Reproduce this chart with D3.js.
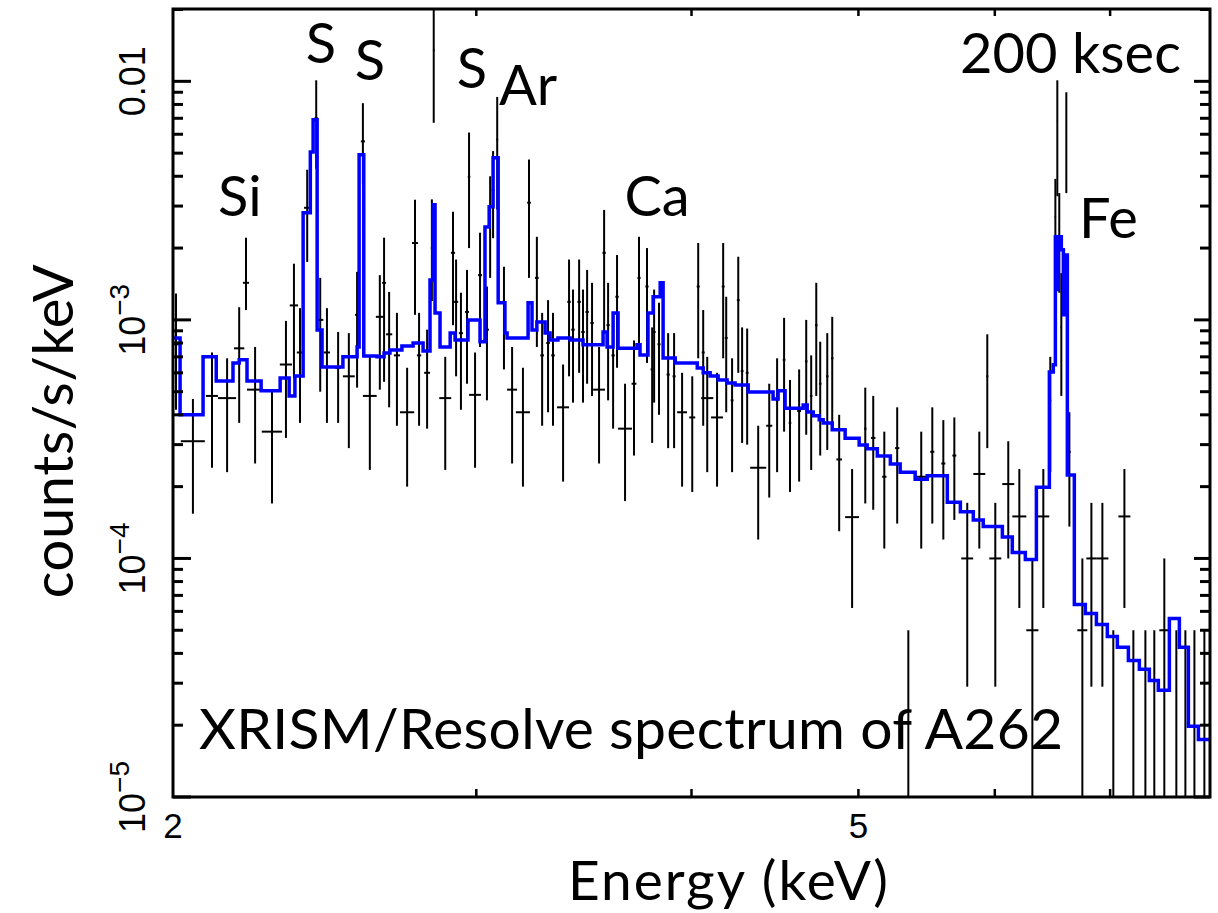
<!DOCTYPE html>
<html>
<head>
<meta charset="utf-8">
<script src="https://cdn.jsdelivr.net/npm/d3@7"></script>
<style>
  html, body { margin: 0; padding: 0; background: #ffffff; }
  svg { display: block; }
</style>
</head>
<body>
<svg id="chart" width="1218" height="913"></svg>
<script>
// Axis ranges
const energyRange = [2, 8];            // keV
const rateRange = [1e-5, 0.0201];      // counts/s/keV

// Observed spectrum: bin centre (keV), half bin width (keV), rate, lower and upper error limits.
// A rate of 0 marks an empty bin (only its upper limit is drawn).
const binEnergy = [
  2.008, 2.054, 2.107, 2.150, 2.185, 2.205, 2.232, 2.283, 2.326, 2.351,
  2.370, 2.393, 2.422, 2.435, 2.457, 2.494, 2.530, 2.558, 2.578, 2.602,
  2.637, 2.652, 2.670, 2.698, 2.735, 2.764, 2.779, 2.809, 2.827, 2.834,
  2.878, 2.908, 2.920, 2.939, 2.963, 2.971, 2.995, 3.015, 3.043, 3.056,
  3.068, 3.085, 3.113, 3.147, 3.193, 3.219, 3.253, 3.276, 3.302, 3.324,
  3.369, 3.396, 3.414, 3.442, 3.460, 3.479, 3.502, 3.535, 3.559, 3.578,
  3.602, 3.621, 3.660, 3.704, 3.729, 3.769, 3.795, 3.805, 3.830, 3.877,
  3.908, 3.950, 4.004, 4.036, 4.063, 4.085, 4.139, 4.173, 4.190, 4.223,
  4.258, 4.280, 4.309, 4.373, 4.438, 4.485, 4.527, 4.563, 4.619, 4.663,
  4.694, 4.726, 4.751, 4.796, 4.828, 4.873, 4.958, 5.046, 5.100, 5.176,
  5.266, 5.345, 5.438, 5.519, 5.601, 5.684, 5.783, 5.877, 5.940, 6.004,
  6.109, 6.200, 6.309, 6.402, 6.462, 6.506, 6.523, 6.540, 6.558, 6.602,
  6.629, 6.745, 6.827, 6.928, 7.030, 7.135, 7.221, 7.338, 7.426, 7.526,
  7.648, 7.741, 7.835, 7.940
];
const binHalfWidth = [
  0.008, 0.033, 0.017, 0.026, 0.015, 0.009, 0.024, 0.031, 0.019, 0.013,
  0.010, 0.010, 0.006, 0.010, 0.010, 0.010, 0.020, 0.007, 0.007, 0.024,
  0.014, 0.007, 0.011, 0.011, 0.026, 0.011, 0.008, 0.011, 0.004, 0.003,
  0.023, 0.008, 0.008, 0.008, 0.008, 0.005, 0.024, 0.008, 0.008, 0.006,
  0.006, 0.004, 0.008, 0.021, 0.030, 0.008, 0.008, 0.008, 0.008, 0.008,
  0.027, 0.008, 0.008, 0.008, 0.008, 0.008, 0.008, 0.028, 0.008, 0.008,
  0.008, 0.008, 0.034, 0.012, 0.008, 0.008, 0.008, 0.008, 0.008, 0.008,
  0.008, 0.026, 0.016, 0.008, 0.008, 0.033, 0.033, 0.008, 0.008, 0.008,
  0.008, 0.008, 0.008, 0.047, 0.018, 0.008, 0.008, 0.008, 0.012, 0.008,
  0.008, 0.008, 0.008, 0.008, 0.008, 0.018, 0.046, 0.008, 0.015, 0.015,
  0.015, 0.000, 0.051, 0.015, 0.015, 0.015, 0.046, 0.047, 0.008, 0.048,
  0.049, 0.058, 0.051, 0.051, 0.008, 0.006, 0.004, 0.004, 0.006, 0.004,
  0.012, 0.045, 0.046, 0.056, 0.000, 0.057, 0.000, 0.000, 0.000, 0.050,
  0.000, 0.000, 0.000, 0.000
];
const binRate = [
  7.9e-4, 3.1e-4, 4.8e-4, 4.7e-4, 7.6e-4, 1.43e-3, 5.1e-4, 3.4e-4, 6.5e-4, 1.15e-3,
  7.3e-4, 2.95e-3, 7.0e-3, 1.0e-3, 7.3e-4, 6.3e-4, 5.8e-4, 1.05e-3, 5.6e-3, 4.8e-4,
  1.03e-3, 1.43e-3, 8.7e-4, 7.1e-4, 4.1e-4, 2.1e-3, 7.1e-4, 6.0e-4, 2.0e-3, 1.35e-2,
  4.7e-4, 1.91e-3, 1.19e-3, 8.8e-4, 1.08e-3, 3.98e-3, 4.85e-4, 1.54e-3, 9.1e-4, 3.0e-3,
  3.5e-3, 5.7e-3, 1.19e-3, 5.1e-4, 4.1e-4, 3.1e-3, 1.5e-3, 7.1e-4, 8.0e-4, 7.1e-4,
  4.3e-4, 1.19e-3, 9.1e-4, 1.19e-3, 8.9e-4, 1.08e-3, 9.7e-4, 5.1e-4, 1.91e-3, 9.5e-4,
  7.1e-4, 1.25e-3, 3.5e-4, 5.4e-4, 1.5e-3, 1.38e-3, 6.2e-4, 8.9e-4, 7.9e-4, 5.9e-4,
  5.8e-4, 4.1e-4, 3.9e-4, 1.38e-3, 7.3e-4, 4.7e-4, 3.9e-4, 1.38e-3, 8.4e-4, 4.6e-4,
  1.21e-3, 6.1e-4, 6.0e-4, 2.4e-4, 3.6e-4, 4.6e-4, 6.8e-4, 3.7e-4, 4.15e-4, 6.7e-4,
  4.8e-4, 9.5e-4, 5.4e-4, 5.8e-4, 6.9e-4, 2.6e-4, 1.49e-4, 3.5e-4, 3.2e-4, 2.2e-4,
  2.9e-4, 0, 2.2e-4, 2.8e-4, 2.5e-4, 2.7e-4, 1.0e-4, 2.26e-4, 5.8e-4, 1.0e-4,
  2.05e-4, 1.5e-4, 5.0e-5, 1.5e-4, 4.6e-4, 2.7e-3, 6.8e-3, 2.4e-3, 9.3e-4, 6.1e-3,
  2.8e-4, 5.0e-5, 1.0e-4, 1.0e-4, 0, 1.5e-4, 0, 0, 0, 5.0e-5,
  0, 0, 0, 0
];
const binLow = [
  4.2e-4, 1.54e-4, 2.4e-4, 2.3e-4, 3.7e-4, 1.10e-3, 2.5e-4, 1.7e-4, 3.2e-4, 5.7e-4,
  3.7e-4, 1.75e-3, 4.3e-3, 5.0e-4, 3.7e-4, 3.7e-4, 2.9e-4, 5.2e-4, 3.7e-3, 2.35e-4,
  5.1e-4, 5.5e-4, 4.3e-4, 3.6e-4, 2.0e-4, 1.05e-3, 3.6e-4, 3.5e-4, 1.2e-3, 6.7e-3,
  2.35e-4, 9.5e-4, 5.8e-4, 4.2e-4, 5.4e-4, 2.0e-3, 2.4e-4, 7.7e-4, 4.6e-4, 1.5e-3,
  2.2e-3, 2.9e-3, 6.2e-4, 2.5e-4, 2.0e-4, 1.5e-3, 7.7e-4, 3.6e-4, 4.1e-4, 3.6e-4,
  2.1e-4, 5.8e-4, 4.5e-4, 6.0e-4, 4.5e-4, 5.4e-4, 4.8e-4, 2.5e-4, 8.8e-4, 4.6e-4,
  3.5e-4, 6.3e-4, 1.74e-4, 2.7e-4, 7.5e-4, 6.6e-4, 3.05e-4, 4.5e-4, 4.0e-4, 2.9e-4,
  2.9e-4, 2.0e-4, 1.9e-4, 6.9e-4, 3.6e-4, 2.3e-4, 2.0e-4, 6.9e-4, 4.1e-4, 2.3e-4,
  6.0e-4, 3.05e-4, 3.0e-4, 1.2e-4, 1.8e-4, 2.3e-4, 3.4e-4, 1.9e-4, 2.1e-4, 3.3e-4,
  2.35e-4, 4.8e-4, 2.7e-4, 2.85e-4, 3.5e-4, 1.3e-4, 6.2e-5, 1.7e-4, 1.6e-4, 1.1e-4,
  1.4e-4, 0, 1.1e-4, 1.4e-4, 1.2e-4, 1.45e-4, 2.9e-5, 1.1e-4, 2.9e-4, 2.9e-5,
  1.0e-4, 6.2e-5, 0, 6.2e-5, 2.3e-4, 1.4e-3, 3.3e-3, 1.3e-3, 4.8e-4, 3.4e-3,
  1.36e-4, 0, 2.9e-5, 2.9e-5, 0, 6.2e-5, 0, 0, 0, 0,
  0, 0, 0, 0
];
const binHigh = [
  1.29e-3, 4.66e-4, 7.3e-4, 6.9e-4, 1.13e-3, 2.21e-3, 7.7e-4, 5.0e-4, 9.9e-4, 1.72e-3,
  1.12e-3, 4.26e-3, 1.01e-2, 1.5e-3, 1.12e-3, 8.9e-4, 8.8e-4, 1.59e-3, 8.1e-3, 7.0e-4,
  1.54e-3, 2.21e-3, 1.31e-3, 1.07e-3, 6.3e-4, 3.19e-3, 1.07e-3, 9.1e-4, 3.2e-3, 2.1e-2,
  7.0e-4, 2.84e-3, 1.79e-3, 1.30e-3, 1.62e-3, 6.1e-3, 7.3e-4, 2.32e-3, 1.38e-3, 4.0e-3,
  5.1e-3, 8.6e-3, 1.67e-3, 7.7e-4, 6.3e-4, 4.7e-3, 2.23e-3, 1.07e-3, 1.21e-3, 1.07e-3,
  6.5e-4, 1.79e-3, 1.34e-3, 1.79e-3, 1.34e-3, 1.62e-3, 1.43e-3, 7.7e-4, 2.89e-3, 1.43e-3,
  1.07e-3, 1.87e-3, 5.4e-4, 8.2e-4, 2.23e-3, 2.0e-3, 9.3e-4, 1.34e-3, 1.18e-3, 8.8e-4,
  8.8e-4, 6.0e-4, 5.8e-4, 2.1e-3, 1.10e-3, 7.0e-4, 6.0e-4, 2.1e-3, 1.25e-3, 6.9e-4,
  1.84e-3, 9.3e-4, 9.2e-4, 3.6e-4, 5.4e-4, 6.9e-4, 1.02e-3, 5.6e-4, 6.2e-4, 1.0e-3,
  7.1e-4, 1.43e-3, 8.1e-4, 8.8e-4, 1.03e-3, 4.0e-4, 2.37e-4, 5.2e-4, 4.8e-4, 3.4e-4,
  4.3e-4, 5.0e-5, 3.4e-4, 4.3e-4, 3.8e-4, 3.9e-4, 1.71e-4, 3.4e-4, 8.7e-4, 1.71e-4,
  3.1e-4, 2.37e-4, 1.0e-4, 2.37e-4, 7.0e-4, 3.9e-3, 1.01e-2, 3.4e-3, 1.57e-3, 9.0e-3,
  4.1e-4, 1.0e-4, 1.71e-4, 1.71e-4, 5.0e-5, 2.37e-4, 5.0e-5, 5.0e-5, 5.0e-5, 1.0e-4,
  5.0e-5, 5.0e-5, 5.0e-5, 5.0e-5
];

// Folded model: step function, each rate holds from its energy to the next one.
const modelEnergy = [
  2.000, 2.019, 2.082, 2.119, 2.167, 2.185, 2.208, 2.250, 2.308, 2.336,
  2.354, 2.380, 2.403, 2.412, 2.425, 2.441, 2.510, 2.558, 2.565, 2.581,
  2.627, 2.652, 2.673, 2.716, 2.757, 2.794, 2.820, 2.831, 2.839, 2.858,
  2.897, 2.916, 2.967, 3.015, 3.035, 3.052, 3.068, 3.089, 3.117, 3.126,
  3.215, 3.232, 3.253, 3.289, 3.311, 3.346, 3.401, 3.460, 3.554, 3.573,
  3.602, 3.626, 3.719, 3.734, 3.774, 3.800, 3.836, 3.851, 3.914, 4.031,
  4.063, 4.101, 4.145, 4.195, 4.240, 4.315, 4.461, 4.491, 4.533, 4.644,
  4.669, 4.707, 4.745, 4.770, 4.828, 4.912, 5.005, 5.059, 5.128, 5.218,
  5.287, 5.394, 5.482, 5.631, 5.730, 5.830, 5.908, 6.061, 6.142, 6.250,
  6.343, 6.454, 6.488, 6.506, 6.523, 6.532, 6.558, 6.576, 6.594, 6.611,
  6.673, 6.772, 6.873, 6.974, 7.068, 7.173, 7.279, 7.377, 7.466, 7.577,
  7.679, 7.772, 7.877
];
const modelRate = [
  8.4e-4, 4.0e-4, 7.0e-4, 5.55e-4, 6.6e-4, 6.8e-4, 5.55e-4, 5.04e-4, 5.71e-4, 4.80e-4,
  5.82e-4, 2.81e-3, 5.06e-3, 6.90e-3, 9.08e-4, 6.35e-4, 7.0e-4, 7.70e-4, 4.92e-3, 7.06e-4,
  7.0e-4, 7.27e-4, 7.48e-4, 7.78e-4, 8.0e-4, 7.41e-4, 1.47e-3, 3.04e-3, 1.07e-3, 7.70e-4,
  8.82e-4, 8.24e-4, 1.0e-3, 8.09e-4, 2.45e-3, 2.98e-3, 4.78e-3, 1.18e-3, 8.82e-4, 8.4e-4,
  1.18e-3, 9.08e-4, 9.8e-4, 8.82e-4, 8.24e-4, 8.4e-4, 8.24e-4, 7.86e-4, 8.9e-4, 7.70e-4,
  1.07e-3, 7.6e-4, 7.86e-4, 7.13e-4, 1.07e-3, 1.25e-3, 1.43e-3, 6.93e-4, 6.6e-4, 6.28e-4,
  6.0e-4, 5.82e-4, 5.60e-4, 5.44e-4, 5.34e-4, 4.99e-4, 4.66e-4, 5.04e-4, 4.26e-4, 4.40e-4,
  4.11e-4, 3.96e-4, 3.81e-4, 3.70e-4, 3.46e-4, 3.19e-4, 2.99e-4, 2.88e-4, 2.69e-4, 2.49e-4,
  2.30e-4, 2.15e-4, 2.22e-4, 1.72e-4, 1.57e-4, 1.45e-4, 1.36e-4, 1.23e-4, 1.06e-4, 9.9e-5,
  1.99e-4, 6.05e-4, 6.48e-4, 2.23e-3, 1.34e-3, 2.23e-3, 1.97e-3, 1.05e-3, 1.87e-3, 2.24e-4,
  6.41e-5, 5.88e-5, 5.29e-5, 4.71e-5, 4.24e-5, 3.73e-5, 3.43e-5, 3.08e-5, 2.80e-5, 5.60e-5,
  4.24e-5, 1.98e-5, 1.74e-5
];

// Axis ticks
const energyTicks = [3, 4, 5, 6, 7];
const energyTickLabels = [2, 5];
const rateDecades = [1e-5, 1e-4, 1e-3, 1e-2];
const rateDecadeLabels = [
  { base: "10", exp: "\u22125" },
  { base: "10", exp: "\u22124" },
  { base: "10", exp: "\u22123" },
  { base: "0.01", exp: "" }
];

// Emission-line labels placed at (energy, rate)
const lineLabelText = ["Si", "S", "S", "S", "Ar", "Ca", "Fe"];
const lineLabelEnergy = [2.187, 2.437, 2.602, 2.983, 3.215, 3.820, 6.984];
const lineLabelRate = [2.73e-3, 1.19e-2, 1.01e-2, 9.35e-3, 7.96e-3, 2.73e-3, 2.21e-3];

const exposureText = "200 ksec";
const titleText = "XRISM/Resolve spectrum of A262";
const xTitle = "Energy (keV)";
const yTitle = "counts/s/keV";

// ---------------------------------------------------------------
const svg = d3.select("#chart");
const W = 1218, H = 913;
const plot = { left: 173, right: 1210, top: 9, bottom: 797 };

svg.append("rect").attr("width", W).attr("height", H).attr("fill", "#ffffff");

const x = d3.scaleLog().domain(energyRange).range([plot.left, plot.right]);
const y = d3.scaleLog().domain(rateRange).range([plot.bottom, plot.top]);

svg.append("defs").append("clipPath").attr("id", "plot-clip")
  .append("rect")
  .attr("x", plot.left).attr("y", plot.top)
  .attr("width", plot.right - plot.left).attr("height", plot.bottom - plot.top);

const bins = binEnergy.map((e, i) => ({
  e, de: binHalfWidth[i], v: binRate[i], lo: binLow[i], hi: binHigh[i]
}));

// Data crosses
const dataG = svg.append("g").attr("clip-path", "url(#plot-clip)")
  .attr("stroke", "#000000").attr("stroke-width", 2).attr("fill", "none");

dataG.selectAll("line.err").data(bins).join("line")
  .attr("class", "err")
  .attr("x1", d => x(d.e)).attr("x2", d => x(d.e))
  .attr("y1", d => d.lo > 0 ? y(d.lo) : plot.bottom + 5)
  .attr("y2", d => y(Math.min(d.hi, rateRange[1] * 1.2)));

dataG.selectAll("line.bin").data(bins.filter(d => d.v > 0 && d.de > 0)).join("line")
  .attr("class", "bin")
  .attr("x1", d => x(d.e - d.de)).attr("x2", d => x(d.e + d.de))
  .attr("y1", d => y(d.v)).attr("y2", d => y(d.v));

// Model step curve
const modelPts = modelEnergy.map((e, i) => [e, modelRate[i]]);
modelPts.push([energyRange[1], modelRate[modelRate.length - 1]]);
svg.append("g").attr("clip-path", "url(#plot-clip)")
  .append("path")
  .datum(modelPts)
  .attr("fill", "none")
  .attr("stroke", "#0000ff")
  .attr("stroke-width", 3.5)
  .attr("stroke-linejoin", "miter")
  .attr("d", d3.line().x(d => x(d[0])).y(d => y(d[1])).curve(d3.curveStepAfter));

// Frame and ticks
const axisG = svg.append("g").attr("stroke", "#000000").attr("fill", "none");
axisG.append("rect")
  .attr("x", plot.left).attr("y", plot.top)
  .attr("width", plot.right - plot.left).attr("height", plot.bottom - plot.top)
  .attr("stroke-width", 3);

energyTicks.forEach(t => {
  const px = x(t);
  axisG.append("line").attr("x1", px).attr("x2", px)
    .attr("y1", plot.bottom).attr("y2", plot.bottom - 8).attr("stroke-width", 2.5);
  axisG.append("line").attr("x1", px).attr("x2", px)
    .attr("y1", plot.top).attr("y2", plot.top + 7).attr("stroke-width", 2.5);
});

const minorRates = [];
rateDecades.forEach(dec => {
  for (let k = 2; k <= 9; k++) {
    const v = dec * k;
    if (v < rateRange[1]) minorRates.push(v);
  }
});
rateDecades.forEach(v => {
  const py = y(v);
  axisG.append("line").attr("x1", plot.left).attr("x2", plot.left + 18)
    .attr("y1", py).attr("y2", py).attr("stroke-width", 3);
  axisG.append("line").attr("x1", plot.right).attr("x2", plot.right - 16)
    .attr("y1", py).attr("y2", py).attr("stroke-width", 3);
});
minorRates.forEach(v => {
  const py = y(v);
  axisG.append("line").attr("x1", plot.left).attr("x2", plot.left + 10)
    .attr("y1", py).attr("y2", py).attr("stroke-width", 3);
  axisG.append("line").attr("x1", plot.right).attr("x2", plot.right - 10)
    .attr("y1", py).attr("y2", py).attr("stroke-width", 3);
});

// Tick labels
const tickFont = "'Liberation Sans', Arial, sans-serif";
svg.append("g").selectAll("text").data(energyTickLabels).join("text")
  .attr("x", d => x(d)).attr("y", 838)
  .attr("text-anchor", "middle")
  .attr("font-family", tickFont).attr("font-size", 35)
  .attr("fill", "#000000")
  .text(d => d);

rateDecades.forEach((v, i) => {
  const lab = rateDecadeLabels[i];
  const t = svg.append("text")
    .attr("transform", `translate(145,${y(v)}) rotate(-90)`)
    .attr("text-anchor", "middle")
    .attr("font-family", tickFont).attr("font-size", 36)
    .attr("fill", "#000000");
  t.append("tspan").text(lab.base);
  if (lab.exp) {
    t.append("tspan").attr("font-size", 28).attr("dy", -16).text(lab.exp);
  }
});

// Annotations and titles
const textFont = "Lato, 'Open Sans', sans-serif";
const annG = svg.append("g").attr("font-family", textFont).attr("fill", "#000000");

annG.selectAll("text.line").data(lineLabelText).join("text")
  .attr("class", "line")
  .attr("x", (d, i) => x(lineLabelEnergy[i]))
  .attr("y", (d, i) => y(lineLabelRate[i]))
  .attr("text-anchor", "middle")
  .attr("font-size", 56)
  .text(d => d);

annG.append("text")
  .attr("x", x(6.639)).attr("y", y(1.08e-2))
  .attr("text-anchor", "middle").attr("font-size", 56)
  .text(exposureText);

annG.append("text")
  .attr("x", x(2.0706)).attr("y", y(1.59e-5))
  .attr("text-anchor", "start").attr("font-size", 57)
  .attr("letter-spacing", 0.3)
  .text(titleText);

annG.append("text")
  .attr("x", 729).attr("y", 900)
  .attr("text-anchor", "middle").attr("font-size", 55)
  .attr("letter-spacing", 2)
  .text(xTitle);

annG.append("text")
  .attr("transform", "translate(73,431) rotate(-90)")
  .attr("text-anchor", "middle").attr("font-size", 56)
  .attr("letter-spacing", 0.6)
  .text(yTitle);
</script>
</body>
</html>
